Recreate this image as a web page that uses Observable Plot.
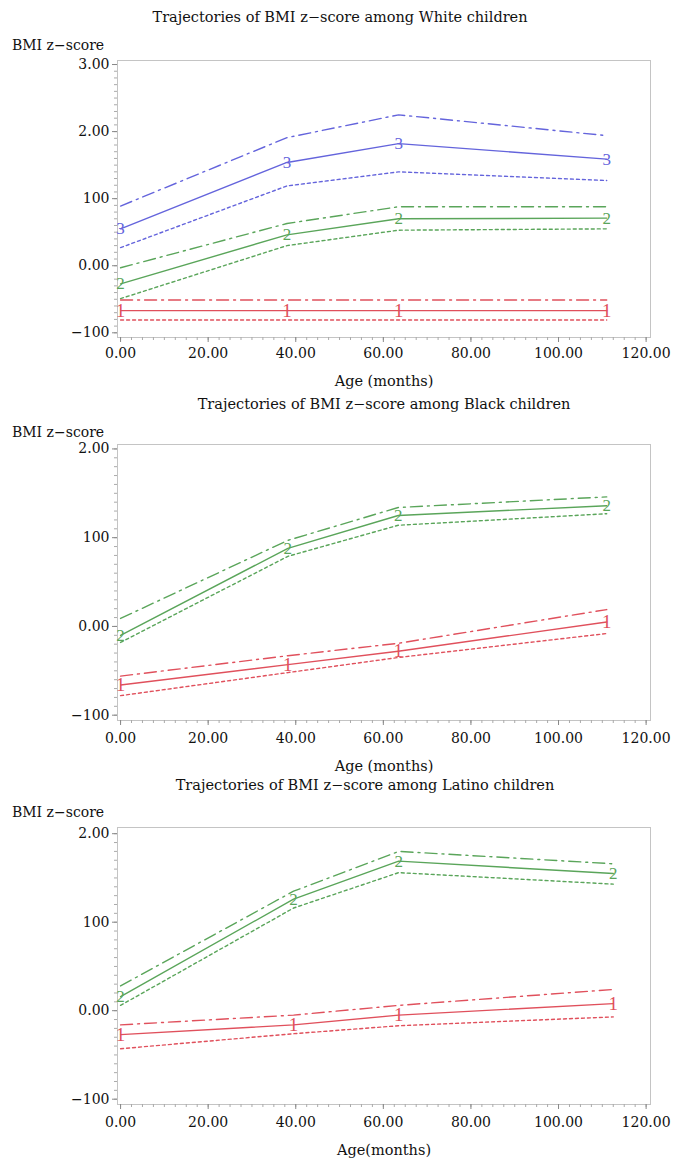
<!DOCTYPE html>
<html><head><meta charset="utf-8">
<script src="https://cdn.jsdelivr.net/npm/d3@7"></script>
<script src="https://cdn.jsdelivr.net/npm/@observablehq/plot@0.6"></script>
<style>
body{margin:0;background:#fff;}
#root{position:relative;width:674px;height:1165px;font-family:"DejaVu Serif",serif;color:#111;overflow:hidden;}
.title,.xlab{position:absolute;font-size:14.5px;white-space:nowrap;transform:translate(-50%,-50%);}
.ylab{position:absolute;font-size:14px;white-space:nowrap;transform:translateY(-50%);}
.panel{position:absolute;left:0;}
</style></head><body><div id="root"></div>
<script>
// ---- data ----
const titles = [
  "Trajectories of BMI z\u2212score among White children",
  "Trajectories of BMI z\u2212score among Black children",
  "Trajectories of BMI z\u2212score among Latino children"
];
const yAxisTitle = "BMI z\u2212score";
const xAxisTitles = ["Age (months)", "Age (months)", "Age(months)"];
const xTicks = [0, 20, 40, 60, 80, 100, 120];
const xTickLabels = ["0.00", "20.00", "40.00", "60.00", "80.00", "100.00", "120.00"];
const yTicksWhite = [3, 2, 1, 0, -1];
const yTickLabelsWhite = ["3.00", "2.00", "100", "0.00", "\u2212100"];
const yTicksOther = [2, 1, 0, -1];
const yTickLabelsOther = ["2.00", "100", "0.00", "\u2212100"];

const agesWhite = [0, 38, 63.5, 111];
const agesBlack = [0, 38.2, 63.4, 111];
const agesLatino = [0, 39.5, 63.5, 112.5];

// White
const white1Est = [-0.67, -0.67, -0.67, -0.67];
const white1Up  = [-0.51, -0.51, -0.51, -0.51];
const white1Lo  = [-0.81, -0.81, -0.81, -0.81];
const white2Est = [-0.27, 0.46, 0.70, 0.71];
const white2Up  = [-0.03, 0.63, 0.88, 0.88];
const white2Lo  = [-0.49, 0.30, 0.53, 0.55];
const white3Est = [0.55, 1.54, 1.82, 1.59];
const white3Up  = [0.89, 1.91, 2.25, 1.94];
const white3Lo  = [0.27, 1.19, 1.40, 1.27];
// Black
const black1Est = [-0.66, -0.43, -0.28, 0.05];
const black1Up  = [-0.56, -0.33, -0.19, 0.19];
const black1Lo  = [-0.78, -0.52, -0.35, -0.08];
const black2Est = [-0.10, 0.88, 1.25, 1.36];
const black2Up  = [0.09, 0.97, 1.34, 1.46];
const black2Lo  = [-0.18, 0.79, 1.14, 1.27];
// Latino
const latino1Est = [-0.27, -0.16, -0.05, 0.08];
const latino1Up  = [-0.16, -0.05, 0.06, 0.24];
const latino1Lo  = [-0.43, -0.26, -0.17, -0.07];
const latino2Est = [0.16, 1.26, 1.69, 1.55];
const latino2Up  = [0.28, 1.35, 1.80, 1.66];
const latino2Lo  = [0.06, 1.16, 1.56, 1.43];

const groupColors = {"1": "#e0505c", "2": "#5aa55a", "3": "#6464dc"};

// ---- layout ----
const root = document.getElementById("root");
function addDiv(cls, text, x, y) {
  const d = document.createElement("div");
  d.className = cls; d.textContent = text;
  d.style.left = x + "px"; d.style.top = y + "px";
  root.appendChild(d);
}

function makePanel(cfg) {
  const {svgTop, frameTop, frameBottom, yDomain, yTicks, yLabels, ages, groups, xPad} = cfg;
  const H = frameBottom - svgTop + 36;
  const yLabelMap = new Map(yTicks.map((t, i) => [t, yLabels[i]]));
  const xLabelMap = new Map(xTicks.map((t, i) => [t, xTickLabels[i]]));
  const minorY = d3.range(Math.ceil(yDomain[0] * 10), Math.floor(yDomain[1] * 10) + 1).map(v => v / 10);
  const minorX = d3.range(0, 121, 2.5);
  const marks = [
    Plot.frame({stroke: "#c4c4c4"}),
    Plot.axisY(minorY, {tickSize: 3, tickFormat: () => "", stroke: "#aaa"}),
    Plot.axisX(minorX, {tickSize: 3, tickFormat: () => "", stroke: "#aaa"}),
    Plot.axisY(yTicks, {tickSize: 5, tickPadding: 3, stroke: "#888", tickFormat: d => yLabelMap.get(d),
      fontSize: 14, fill: "#111", label: null}),
    Plot.axisX(xTicks, {tickSize: 5, tickPadding: xPad, stroke: "#888", tickFormat: d => xLabelMap.get(d),
      fontSize: 14, fill: "#111", label: null})
  ];
  for (const g of groups) {
    const c = groupColors[g.id];
    marks.push(Plot.line(g.up, {x: (d, i) => ages[i], y: d => d, stroke: c, strokeWidth: 1.4, strokeDasharray: "12,5,2,5"}));
    marks.push(Plot.line(g.lo, {x: (d, i) => ages[i], y: d => d, stroke: c, strokeWidth: 1.4, strokeDasharray: "3,3"}));
    marks.push(Plot.line(g.est, {x: (d, i) => ages[i], y: d => d, stroke: c, strokeWidth: 1.4}));
    marks.push(Plot.text(g.est, {x: (d, i) => ages[i], y: d => d, text: () => g.id, fill: c,
      fontSize: g.id === "1" ? 19 : 17, fontFamily: "Liberation Serif", textAnchor: "middle", lineAnchor: "middle"}));
  }
  const svg = Plot.plot({
    width: 674, height: H,
    marginLeft: 117, marginRight: 24,
    marginTop: frameTop - svgTop, marginBottom: H - (frameBottom - svgTop),
    style: {fontFamily: "DejaVu Serif", fontSize: "14px", background: "#fff", color: "#111"},
    x: {domain: [-0.7, 121], axis: null},
    y: {domain: yDomain, axis: null},
    marks
  });
  svg.classList.add("panel");
  svg.style.top = svgTop + "px";
  root.appendChild(svg);
}

makePanel({svgTop: 50, frameTop: 60, frameBottom: 337, yDomain: [-1.07, 3.06], xPad: 6,
  yTicks: yTicksWhite, yLabels: yTickLabelsWhite, ages: agesWhite,
  groups: [
    {id: "3", est: white3Est, up: white3Up, lo: white3Lo},
    {id: "2", est: white2Est, up: white2Up, lo: white2Lo},
    {id: "1", est: white1Est, up: white1Up, lo: white1Lo}
  ]});
makePanel({svgTop: 434, frameTop: 444, frameBottom: 720, yDomain: [-1.06, 2.05], xPad: 8,
  yTicks: yTicksOther, yLabels: yTickLabelsOther, ages: agesBlack,
  groups: [
    {id: "2", est: black2Est, up: black2Up, lo: black2Lo},
    {id: "1", est: black1Est, up: black1Up, lo: black1Lo}
  ]});
makePanel({svgTop: 817, frameTop: 827, frameBottom: 1104, yDomain: [-1.06, 2.07], xPad: 8,
  yTicks: yTicksOther, yLabels: yTickLabelsOther, ages: agesLatino,
  groups: [
    {id: "2", est: latino2Est, up: latino2Up, lo: latino2Lo},
    {id: "1", est: latino1Est, up: latino1Up, lo: latino1Lo}
  ]});

addDiv("title", titles[0], 340, 17);
addDiv("title", titles[1], 384, 404);
addDiv("title", titles[2], 365, 785);
addDiv("ylab", yAxisTitle, 12, 45);
addDiv("ylab", yAxisTitle, 12, 432);
addDiv("ylab", yAxisTitle, 12, 812);
addDiv("xlab", xAxisTitles[0], 384, 381);
addDiv("xlab", xAxisTitles[1], 384, 766);
addDiv("xlab", xAxisTitles[2], 384, 1150);
</script></body></html>
